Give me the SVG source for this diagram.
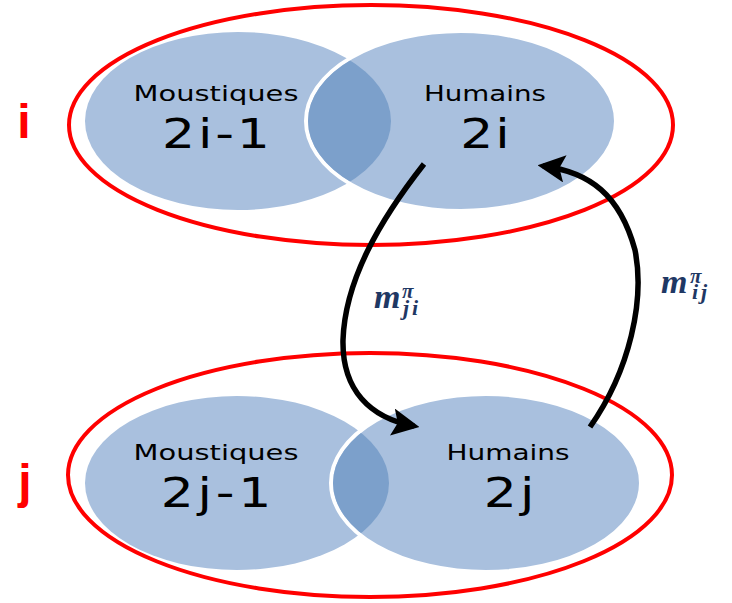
<svg xmlns="http://www.w3.org/2000/svg" width="732" height="603" viewBox="0 0 732 603">
<defs>
<style>
.red{fill:none;stroke:#ff0000;stroke-width:4}
.blue{fill:#a9c0de}
.blueR{fill:#a9c0de;stroke:#ffffff;stroke-width:4}
.ov{fill:#7ca0cb}
.lbl{font-family:"DejaVu Sans",sans-serif;font-size:22px;fill:#000;text-anchor:middle}
.num{font-family:"DejaVu Sans",sans-serif;font-size:40px;fill:#000;text-anchor:middle}
.set{font-family:"Liberation Sans",sans-serif;font-weight:bold;font-size:48px;fill:#ff0000;text-anchor:middle}
.m{font-family:"Liberation Serif",serif;font-style:italic;font-weight:bold;fill:#1f3864}
.arr{fill:none;stroke:#000;stroke-width:5.5}
</style>
<marker id="ah" viewBox="0 0 10 10" refX="8" refY="5" markerWidth="5" markerHeight="5" orient="auto" markerUnits="strokeWidth">
<path d="M0,0 L10,5 L0,10 L2,5 Z" fill="#000"/>
</marker>
<clipPath id="cl1"><ellipse cx="238" cy="121" rx="153" ry="89"/></clipPath>
<clipPath id="cl2"><ellipse cx="237" cy="483" rx="152" ry="87"/></clipPath>
</defs>
<g id="groupI">
<ellipse class="red" cx="371" cy="125" rx="302" ry="120"/>
<text class="set" x="24" y="138">i</text>
</g>
<g id="moustiquesI">
<ellipse class="blue" cx="238" cy="121" rx="153" ry="89"/>
</g>
<g id="humainsI">
<ellipse class="blueR" cx="461" cy="121" rx="155" ry="90"/>
<ellipse class="ov" cx="461" cy="121" rx="153" ry="88" clip-path="url(#cl1)"/>
</g>
<g id="textsI">
<text class="lbl" x="216" y="101" textLength="165" lengthAdjust="spacingAndGlyphs">Moustiques</text>
<text class="num" transform="translate(216,148) scale(1.3,1)" textLength="83" lengthAdjust="spacing">2i-1</text>
<text class="lbl" x="485" y="101" textLength="122" lengthAdjust="spacingAndGlyphs">Humains</text>
<text class="num" transform="translate(485,148) scale(1.3,1)" textLength="38" lengthAdjust="spacing">2i</text>
</g>
<g id="groupJ">
<ellipse class="red" cx="370" cy="475" rx="302" ry="122"/>
<text class="set" x="25" y="498">j</text>
</g>
<g id="moustiquesJ">
<ellipse class="blue" cx="237" cy="483" rx="152" ry="87"/>
</g>
<g id="humainsJ">
<ellipse class="blueR" cx="486" cy="483" rx="155" ry="89"/>
<ellipse class="ov" cx="486" cy="483" rx="153" ry="87" clip-path="url(#cl2)"/>
</g>
<g id="textsJ">
<text class="lbl" x="216" y="460" textLength="165" lengthAdjust="spacingAndGlyphs">Moustiques</text>
<text class="num" transform="translate(216,507) scale(1.3,1)" textLength="85" lengthAdjust="spacing">2j-1</text>
<text class="lbl" x="508" y="460" textLength="123" lengthAdjust="spacingAndGlyphs">Humains</text>
<text class="num" transform="translate(509,507) scale(1.3,1)" textLength="39" lengthAdjust="spacing">2j</text>
</g>
<g id="connectors">
<path class="arr" d="M424,164 C380,220 345,280 343,340 C342,390 370,418 414,426" marker-end="url(#ah)"/>
<path class="arr" d="M590,427 C630,370 645,300 635,250 C620,195 590,172 543,166" marker-end="url(#ah)"/>
</g>
<g id="labels">
<text class="m"><tspan x="374" y="308" font-size="34">m</tspan><tspan x="402" y="298" font-size="21">π</tspan><tspan x="403" y="315" font-size="22" letter-spacing="3">ji</tspan></text>
<text class="m"><tspan x="661" y="293" font-size="34">m</tspan><tspan x="690" y="283" font-size="21">π</tspan><tspan x="692" y="299" font-size="22" letter-spacing="3">ij</tspan></text>
</g>
</svg>
